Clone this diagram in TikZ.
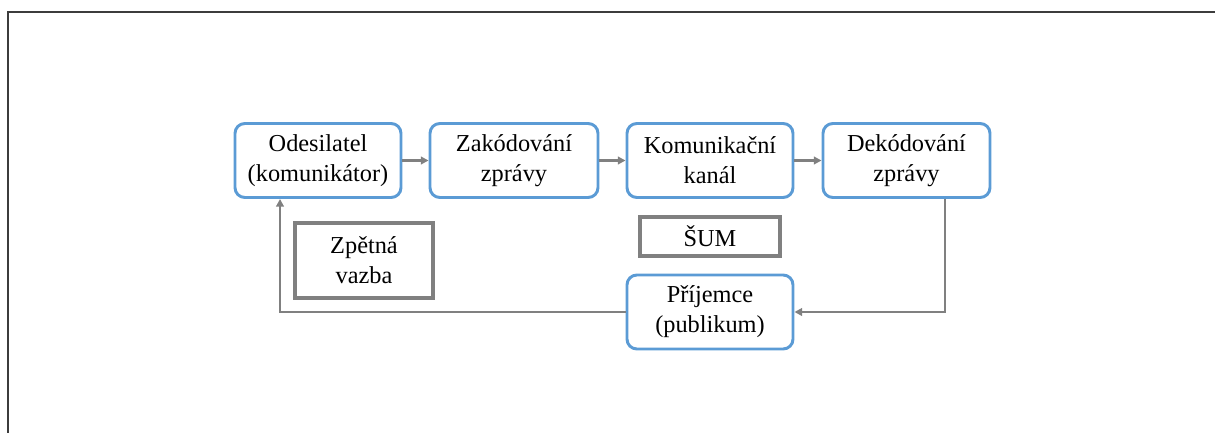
\documentclass[tikz,border=0pt]{standalone}
\usepackage{fontspec}
\setmainfont{Liberation Serif}
\usetikzlibrary{arrows.meta}
\definecolor{boxblue}{RGB}{91,155,213}
\definecolor{linegray}{RGB}{128,128,128}
\definecolor{framegray}{RGB}{60,60,60}
\tikzset{
  labelfont/.style={font=\rmfamily\fontsize{17.3}{21.3}\selectfont},
  stagebox/.style={draw=boxblue, line width=2.1pt, rounded corners=7pt, fill=white,
    minimum width=166*0.025cm, minimum height=74*0.025cm, align=center, inner sep=0pt,
    labelfont},
  notebox/.style={draw=linegray, line width=2.4pt, fill=white, align=center, inner sep=0pt,
    labelfont},
  flow/.style={draw=linegray, line width=2pt, -{Triangle[length=5.5pt,width=5.5pt]}},
}
\begin{document}
\begin{tikzpicture}[x=0.025cm, y=-0.025cm]
  \useasboundingbox (0,0) rectangle (1215,433);
  % page frame
  \draw[framegray, line width=1.2pt] (8,433) -- (8,12) -- (1215,12);

  % stages of the communication process
  \node[stagebox] (send) at (318,160.5) {Odesilatel\\(komunikátor)};
  \node[stagebox, minimum width=168*0.025cm] (enc) at (514,160.5) {Zakódování\\zprávy};
  \node[stagebox] (chan) at (710,160.5) {Komunikační\\kanál};
  \node[stagebox, minimum width=167*0.025cm] (dec) at (906.5,160.5) {Dekódování\\zprávy};
  \node[stagebox] (recv) at (710,312) {Příjemce\\(publikum)};

  % side notes
  \node[notebox, minimum width=138*0.025cm, minimum height=75*0.025cm] (fb) at (364,260.5) {Zpětná\\vazba};
  \node[notebox, minimum width=140*0.025cm, minimum height=39*0.025cm] (noise) at (710,236.5) {ŠUM};

  % connectors
  \draw[flow] (send.east) -- (enc.west);
  \draw[flow] (enc.east) -- (chan.west);
  \draw[flow] (chan.east) -- (dec.west);
  \draw[flow] (dec.south -| 945,0) |- (recv.east);
  \draw[flow] (recv.west) -- (280,312) -- (280,0 |- send.south);
\end{tikzpicture}
\end{document}
